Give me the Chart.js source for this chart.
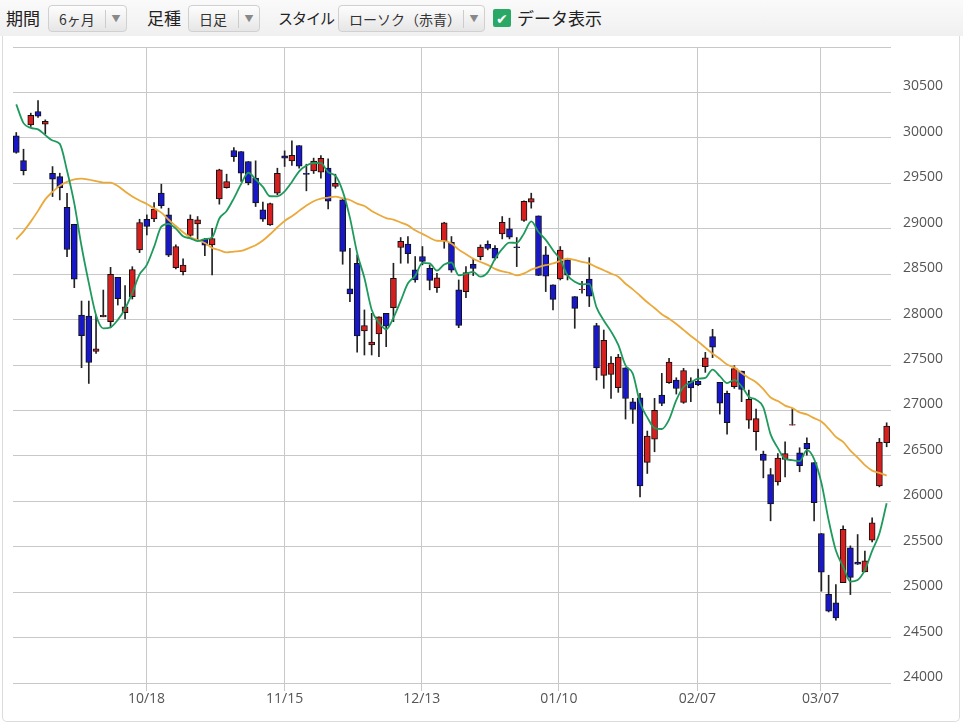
<!DOCTYPE html>
<html>
<head>
<meta charset="utf-8">
<script src="https://cdn.jsdelivr.net/npm/chart.js@4/dist/chart.umd.min.js"></script>
<style>
    body { margin: 0; width: 963px; height: 725px; background: #fff; font-family: "Noto Sans CJK JP", "Open Sans", sans-serif; overflow: hidden; }
    .bar { position: absolute; left: 0; top: 0; width: 963px; height: 36px; background: linear-gradient(#fafafa, #f0f0f0); }
    .bar span { position: absolute; top: 6px; font-size: 17px; color: #222; line-height: 24px; white-space: nowrap; }
    .btn { position: absolute; top: 5px; height: 27px; border: 1px solid #d0d0d0; border-radius: 4px; background: linear-gradient(#fdfdfd, #e6e6e6); font-size: 14px; color: #333; line-height: 27px; box-sizing: border-box; padding-left: 10px; }
    .btn i { position: absolute; right: 0; top: 4px; width: 20px; height: 18px; border-left: 1px solid #ccc; font-style: normal; font-size: 9px; color: #888; text-align: center; line-height: 18px; }
    .chk { position: absolute; left: 493px; top: 9px; width: 18px; height: 18px; background: #2aa866; border-radius: 2px; color: #fff; font-size: 14px; line-height: 18px; text-align: center; }
    .frame { position: absolute; left: 2px; top: 36px; width: 958px; height: 686px; border: 1px solid #dcdcdc; border-top: none; border-radius: 0 0 5px 5px; box-sizing: border-box; }
    .frame div { position: absolute; left: 0; top: 0; width: 956px; height: 685px; }
</style>
</head>
<body>
<div class="bar">
    <span style="left:6px">期間</span>
    <div class="btn" style="left:48px;width:79px">6ヶ月<i>▼</i></div>
    <span style="left:147px">足種</span>
    <div class="btn" style="left:188px;width:72px">日足<i>▼</i></div>
    <span style="left:278px;font-size:15px;letter-spacing:-1px">スタイル</span>
    <div class="btn" style="left:338px;width:147px">ローソク（赤青）<i>▼</i></div>
    <div class="chk">✔</div>
    <span style="left:517px">データ表示</span>
</div>
<div class="frame"><div><canvas id="candleChart"></canvas></div></div>
<script>
    // 日経平均 日足 2021/09/21 - 2022/03/18
    const opens = [30022, 29750, 30143, 30290, 30150, 29610, 29574, 29236, 29049, 28050, 28039, 27650, 28030, 27977, 28465, 28076, 28252, 28766, 29104, 29107,
        29391, 29152, 28572, 28528, 28925, 29053, 28884, 28822, 29329, 29453, 29861, 29850, 29740, 29556, 29207, 29042, 29391, 29802, 29747, 29916,
        29610, 29637, 29622, 29667, 29465, 29318, 28337, 28620, 27875, 27721, 27842, 28069, 28132, 28793, 28830, 28547, 28694, 28565, 28352, 28866,
        28851, 28326, 28308, 28609, 28693, 28829, 28785, 28943, 28998, 28800, 29090, 29292, 29141, 28712, 28381, 28447, 28657, 28253, 28330, 28447,
        27933, 27386, 27397, 27250, 27470, 27096, 27140, 26428, 26685, 27169, 27305, 27335, 27089, 27324, 27324, 27481, 27812, 27309, 27188, 27261,
        27433, 26894, 26765, 26519, 26295, 26214, 26460, 26838, 26534, 26637, 26427, 25645, 24977, 24882, 25105, 25487, 25330, 25223, 25572, 26170, 26644];
    const highs = [30059, 29875, 30272, 30411, 30198, 29684, 29611, 29390, 29049, 28204, 28204, 28050, 28325, 28575, 28465, 28373, 28582, 29104, 29152, 29287,
        29490, 29226, 28822, 28668, 29152, 29134, 28895, 29005, 29655, 29600, 29894, 29850, 29740, 29747, 29292, 29281, 29666, 29857, 29967, 29916,
        29710, 29777, 29806, 29769, 29600, 29336, 28785, 28712, 28106, 28069, 28029, 28069, 28620, 28903, 28914, 28694, 28804, 28602, 28510, 29071,
        28914, 28436, 28583, 28675, 28822, 28866, 28814, 29134, 29116, 28903, 29306, 29391, 29141, 28804, 28381, 28804, 28675, 28253, 28420, 28682,
        27959, 27885, 27592, 27617, 27470, 27133, 27188, 26773, 27133, 27408, 27573, 27360, 27463, 27360, 27456, 27639, 27893, 27309, 27213, 27493,
        27433, 27224, 27015, 26552, 26361, 26526, 26655, 27022, 26589, 26699, 26427, 25645, 25186, 25083, 25730, 25509, 25634, 25451, 25818, 26692, 26864];
    const lows = [29831, 29592, 30125, 30224, 30040, 29354, 29317, 28693, 28351, 27470, 27297, 27628, 28030, 27910, 28160, 28006, 28226, 28737, 28931, 29078,
        29226, 28693, 28557, 28491, 28903, 28877, 28704, 28492, 29270, 29446, 29740, 29520, 29483, 29244, 29079, 29035, 29373, 29685, 29696, 29667,
        29417, 29608, 29556, 29219, 29446, 28609, 28198, 27640, 27610, 27610, 27592, 27702, 27977, 28620, 28620, 28411, 28602, 28327, 28300, 28785,
        28521, 27911, 28242, 28484, 28657, 28767, 28657, 28888, 28888, 28583, 29079, 29226, 28484, 28308, 28106, 28436, 28436, 27904, 28290, 28143,
        27335, 27243, 27133, 27199, 26905, 26857, 26049, 26306, 26545, 27052, 27298, 27180, 27078, 27096, 27272, 27419, 27581, 26960, 26740, 27243,
        27096, 26802, 26563, 26258, 25785, 26178, 26269, 26838, 26325, 26508, 25785, 25010, 24782, 24691, 25105, 24973, 25304, 25223, 25553, 26159, 26600];
    const closes = [29839, 29639, 30248, 30240, 30183, 29544, 29452, 28771, 28444, 27822, 27528, 27678, 28048, 28498, 28230, 28140, 28550, 29068, 29025, 29215,
        29255, 28708, 28804, 28600, 29106, 29098, 28820, 28892, 29647, 29520, 29794, 29611, 29507, 29285, 29106, 29277, 29609, 29776, 29808, 29688,
        29598, 29745, 29774, 29302, 29499, 28751, 28283, 27821, 27935, 27753, 28029, 27927, 28455, 28860, 28725, 28437, 28640, 28432, 28459, 29066,
        28545, 27937, 28517, 28562, 28798, 28782, 28676, 29069, 28906, 28791, 29301, 29332, 28487, 28478, 28222, 28765, 28489, 28124, 28333, 28257,
        27467, 27772, 27522, 27588, 27131, 27011, 26170, 26717, 27001, 27078, 27533, 27241, 27439, 27248, 27284, 27579, 27696, 27079, 26865, 27460,
        27232, 27122, 26910, 26449, 25970, 26476, 26526, 26844, 26393, 26577, 25985, 25221, 24790, 24717, 25690, 25162, 25307, 25346, 25762, 26652, 26827];
    // 移動平均用：表示期間より前の終値（8/17〜9/17）
    const priorCloses = [27424, 27585, 27281, 27013, 27494, 27732, 27724, 27742, 27641, 27789, 28089, 28451,
        28543, 29128, 29659, 29916, 30181, 30008, 30381, 30447, 30670, 30511, 30323, 30500];
    const tickPositions = [17.95, 37, 55.9, 74.8, 93.9, 110.9];
    const tickLabels = ["10/18", "11/15", "12/13", "01/10", "02/07", "03/07"];

    const allCloses = priorCloses.concat(closes);
    function movingAverage(n) {
        return closes.map((c, i) => {
            const end = priorCloses.length + i + 1;
            const part = allCloses.slice(end - n, end);
            return { x: i, y: part.reduce((a, b) => a + b, 0) / n };
        });
    }

    const upColor = "#d61f1f";
    const downColor = "#1818c8";
    const candleColors = closes.map((c, i) => (c >= opens[i] ? upColor : downColor));

    new Chart(document.querySelector("#candleChart"), {
        data: {
            datasets: [
                {
                    type: "line",
                    data: movingAverage(5),
                    borderColor: "#1e9a5c",
                    borderWidth: 1.8,
                    pointRadius: 0,
                    cubicInterpolationMode: "monotone",
                    order: 0,
                },
                {
                    type: "line",
                    data: movingAverage(25),
                    borderColor: "#eaa93a",
                    borderWidth: 1.8,
                    pointRadius: 0,
                    cubicInterpolationMode: "monotone",
                    order: 0,
                },
                {
                    type: "bar",
                    data: opens.map((o, i) => ({ x: i, y: [Math.min(o, closes[i]), Math.max(o, closes[i])] })),
                    backgroundColor: candleColors,
                    borderColor: "#111",
                    borderWidth: 1,
                    borderSkipped: false,
                    barThickness: 6,
                    grouped: false,
                    order: 1,
                },
                {
                    type: "bar",
                    data: lows.map((l, i) => ({ x: i, y: [l, highs[i]] })),
                    backgroundColor: "#222",
                    barThickness: 1,
                    grouped: false,
                    order: 2,
                },
            ],
        },
        options: {
            responsive: true,
            maintainAspectRatio: false,
            animation: false,
            layout: { padding: { left: 10, top: 11, right: 0, bottom: 0 } },
            plugins: { legend: { display: false }, tooltip: { enabled: false } },
            scales: {
                x: {
                    type: "linear",
                    min: -0.45,
                    max: 120.6,
                    offset: false,
                    afterBuildTicks: (scale) => {
                        scale.ticks = tickPositions.map((v) => ({ value: v }));
                    },
                    afterFit: (scale) => {
                        scale.height = 38;
                        scale.paddingLeft = 0;
                        scale.paddingRight = 0;
                    },
                    ticks: {
                        callback: (v) => tickLabels[tickPositions.indexOf(v)],
                        font: { size: 14, family: "Open Sans" },
                        color: "#555",
                        maxRotation: 0,
                        autoSkip: false,
                        padding: 0,
                    },
                    grid: { color: "#c8c8c8", tickLength: 8, offset: false },
                    border: { display: false },
                },
                y: {
                    position: "right",
                    min: 24000,
                    max: 31000,
                    afterFit: (scale) => {
                        scale.width = 68;
                        scale.paddingTop = 0;
                        scale.paddingBottom = 0;
                    },
                    ticks: {
                        stepSize: 500,
                        callback: (v) => (v === 31000 ? "" : v),
                        font: { size: 14, family: "Open Sans" },
                        color: "#555",
                        padding: 12,
                        labelOffset: -6,
                    },
                    grid: { color: "#c8c8c8", drawTicks: false },
                    border: { display: false },
                },
            },
        },
    });
</script>
</body>
</html>
